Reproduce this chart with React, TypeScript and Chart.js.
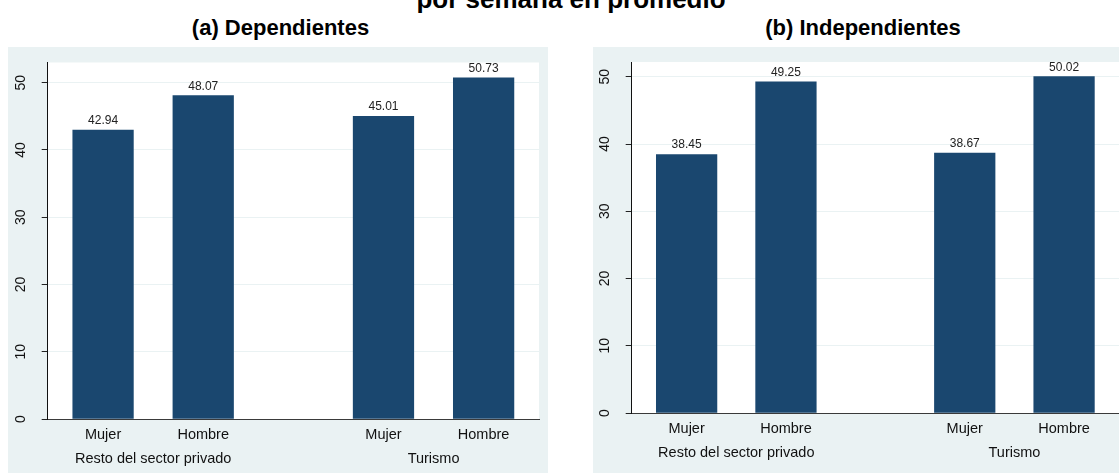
import { useEffect, useRef } from 'react';
import { Chart, registerables } from 'chart.js';

Chart.register(...registerables);

// Horas trabajadas por semana en promedio
const groups = ['Resto del sector privado', 'Turismo'];
const sexes = ['Mujer', 'Hombre'];
const dependientes = [42.94, 48.07, 45.01, 50.73];
const independientes = [38.45, 49.25, 38.67, 50.02];
const yTicks = [0, 10, 20, 30, 40, 50];

const FONT = '"Liberation Sans", Arial, Helvetica, sans-serif';
const NAVY = '#1a476f';
const BLUISH = '#eaf2f3';

// bar layout along a linear x axis (one unit = distance between bars in a group)
const SIDE = 0.553;
const GAP = 1.8;
const STEP = sexes.length - 1 + GAP;
const X_MAX = SIDE * 2 + (groups.length - 1) * STEP + (sexes.length - 1);

const barX = (i: number) => {
  const g = Math.floor(i / sexes.length);
  const s = i % sexes.length;
  return SIDE + g * STEP + s;
};

const xTickItems = [
  ...groups.flatMap((_, g) => sexes.map((sex, s) => ({ value: barX(g * sexes.length + s), label: sex as string | string[] }))),
  ...groups.map((name, g) => ({ value: SIDE + g * STEP + (sexes.length - 1) / 2, label: ['', name] as string | string[] })),
].sort((a, b) => a.value - b.value);

interface PanelProps {
  values: number[];
  yMax: number;
  axisWidth: number;
  xAxisHeight: number;
  padTop: number;
  padRight: number;
}

function Panel({ values, yMax, axisWidth, xAxisHeight, padTop, padRight }: PanelProps) {
  const chartRef = useRef<HTMLCanvasElement | null>(null);

  useEffect(() => {
    const ctx = chartRef.current?.getContext('2d');
    if (!ctx) return;

    const chart = new Chart(ctx, {
      type: 'bar',
      data: {
        datasets: [
          {
            data: values.map((v, i) => ({ x: barX(i), y: v })),
            backgroundColor: NAVY,
            borderWidth: 0,
            barThickness: 60.6,
          },
        ],
      },
      options: {
        responsive: false,
        animation: false,
        layout: { padding: { top: padTop, right: padRight, bottom: 0, left: 0 } },
        plugins: {
          legend: { display: false },
          tooltip: { enabled: false },
        },
        scales: {
          x: {
            type: 'linear',
            min: 0,
            max: X_MAX,
            offset: false,
            grid: { display: false, drawTicks: false },
            border: { display: true, color: '#3a3a3a', width: 1 },
            afterBuildTicks: (scale: any) => {
              scale.ticks = xTickItems.map(t => ({ value: t.value }));
            },
            afterFit: (scale: any) => {
              scale.height = xAxisHeight;
            },
            ticks: {
              autoSkip: false,
              maxRotation: 0,
              minRotation: 0,
              padding: 4,
              color: '#111',
              font: { family: FONT, size: 14.5, lineHeight: '24px' },
              callback: (value: any) => {
                const item = xTickItems.find(t => Math.abs(t.value - Number(value)) < 1e-6);
                return item ? item.label : '';
              },
            },
          },
          y: {
            min: 0,
            max: yMax,
            afterBuildTicks: (scale: any) => {
              scale.ticks = yTicks.map(v => ({ value: v }));
            },
            afterFit: (scale: any) => {
              scale.width = axisWidth;
            },
            grid: {
              color: BLUISH,
              lineWidth: 1,
              drawTicks: true,
              tickLength: 6,
              tickColor: '#222',
            },
            border: { display: true, color: '#111', width: 1 },
            ticks: { display: false },
          },
        },
      },
      plugins: [
        {
          id: 'panelBackground',
          beforeDraw: (c: any) => {
            const { ctx: g, chartArea } = c;
            g.save();
            g.fillStyle = BLUISH;
            g.fillRect(0, 0, c.width, c.height);
            g.fillStyle = '#ffffff';
            g.fillRect(chartArea.left, chartArea.top, chartArea.right - chartArea.left, chartArea.bottom - chartArea.top);
            g.restore();
          },
        },
        {
          id: 'rotatedYLabels',
          afterDraw: (c: any) => {
            const scale = c.scales.y;
            const g = c.ctx;
            g.save();
            g.fillStyle = '#111';
            g.font = `14px ${FONT}`;
            g.textAlign = 'center';
            g.textBaseline = 'alphabetic';
            scale.ticks.forEach((t: any) => {
              const py = scale.getPixelForValue(t.value);
              g.save();
              g.translate(scale.right - 23, py);
              g.rotate(-Math.PI / 2);
              g.fillText(String(t.value), 0, 0);
              g.restore();
            });
            g.restore();
          },
        },
        {
          id: 'barValues',
          afterDatasetsDraw: (c: any) => {
            const g = c.ctx;
            const meta = c.getDatasetMeta(0);
            g.save();
            g.fillStyle = '#222';
            g.font = `12px ${FONT}`;
            g.textAlign = 'center';
            g.textBaseline = 'alphabetic';
            meta.data.forEach((bar: any, i: number) => {
              g.fillText(values[i].toFixed(2), bar.x, bar.y - 6);
            });
            g.restore();
          },
        },
      ],
    });

    return () => {
      chart.destroy();
    };
  }, [values, yMax, axisWidth, xAxisHeight, padTop, padRight]);

  return <canvas ref={chartRef} width={540} height={426} style={{ display: 'block', width: 540, height: 426 }}></canvas>;
}

const titleStyle = {
  position: 'absolute' as const,
  fontFamily: FONT,
  fontWeight: 'bold' as const,
  color: '#000',
  whiteSpace: 'nowrap' as const,
  textAlign: 'center' as const,
};

export default function App() {
  return (
    <div
      style={{
        position: 'fixed',
        left: 0,
        top: 0,
        width: 1119,
        height: 473,
        overflow: 'hidden',
        background: '#ffffff',
      }}
    >
      <div style={{ ...titleStyle, left: 271, width: 600, top: -14, fontSize: 26, lineHeight: '26px' }}>
        por semana en promedio
      </div>
      <div style={{ ...titleStyle, left: 8, width: 545, top: 17, fontSize: 22, lineHeight: '22px' }}>
        (a) Dependientes
      </div>
      <div style={{ ...titleStyle, left: 593, width: 540, top: 17, fontSize: 22, lineHeight: '22px' }}>
        (b) Independientes
      </div>
      <div style={{ position: 'absolute', left: 8, top: 47 }}>
        <Panel values={dependientes} yMax={53} axisWidth={39.7} xAxisHeight={54} padTop={15.5} padRight={9} />
      </div>
      <div style={{ position: 'absolute', left: 593, top: 47 }}>
        <Panel values={independientes} yMax={52.2} axisWidth={38.7} xAxisHeight={60} padTop={15} padRight={14} />
      </div>
    </div>
  );
}
